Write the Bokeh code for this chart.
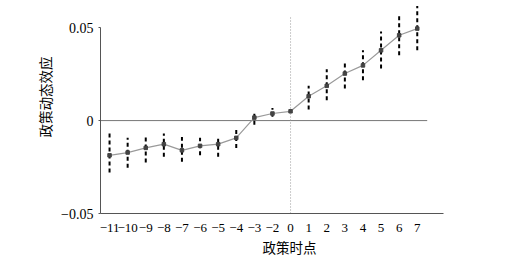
from bokeh.plotting import figure
from bokeh.models import ColumnDataSource, Title, FixedTicker
from bokeh.embed import file_html
from bokeh.resources import INLINE

labels = ["−11", "−10", "−9", "−8", "−7", "−6", "−5", "−4", "−3", "−2",
          "0", "1", "2", "3", "4", "5", "6", "7"]
coef = [-0.0187, -0.0172, -0.0147, -0.0127, -0.0160, -0.0136, -0.0127, -0.0093,
        0.0016, 0.0038, 0.0050, 0.0131, 0.0187, 0.0253, 0.0297, 0.0378, 0.0459, 0.0495]
ci_low = [-0.0280, -0.0254, -0.0226, -0.0195, -0.0222, -0.0187, -0.0195, -0.0147,
          -0.0022, 0.0020, None, 0.0059, 0.0109, 0.0172, 0.0217, 0.0280, 0.0351, 0.0378]
ci_high = [-0.0061, -0.0093, -0.0079, -0.0070, -0.0088, -0.0093, -0.0082, -0.0039,
           0.0050, 0.0068, None, 0.0187, 0.0276, 0.0319, 0.0378, 0.0480, 0.0563, 0.0616]
y_ticks = [-0.05, 0, 0.05]
y_tick_labels = ["−0.05", "0", "0.05"]
x_title = "政策时点"
y_title = "政策动态效应"

xs = list(range(len(labels)))
ci_x = [x for x, lo in zip(xs, ci_low) if lo is not None]
ci_lo = [lo for lo in ci_low if lo is not None]
ci_hi = [hi for hi in ci_high if hi is not None]

p = figure(frame_width=343, frame_height=210, x_range=(-0.5, 18.45), y_range=(-0.05, 0.063),
           output_backend="svg", toolbar_location=None,
           min_border_left=100, min_border_right=30, min_border_top=3, min_border_bottom=0)
p.outline_line_color = None
p.xgrid.grid_line_color = None
p.ygrid.grid_line_color = None
p.background_fill_color = "white"

# reference lines
p.segment(x0=[-0.5], y0=[0], x1=[17.55], y1=[0], line_color="#777777", line_width=1)
p.segment(x0=[10], y0=[-0.05], x1=[10], y1=[0.0555], line_color="#999999",
          line_width=1, line_dash="1 2")

# confidence intervals
ci_src = ColumnDataSource(dict(x=ci_x, lo=ci_lo, hi=ci_hi))
p.segment(x0="x", y0="lo", x1="x", y1="hi", source=ci_src, line_color="black",
          line_width=2, line_dash="4 3")

# estimates
src = ColumnDataSource(dict(x=xs, y=coef))
p.line("x", "y", source=src, line_color="#9a9a9a", line_width=1.2)
p.scatter("x", "y", source=src, marker="square", size=3.5, color="#444444")

# axes
font_serif = "Liberation Serif"
p.xaxis.ticker = FixedTicker(ticks=xs)
p.xaxis.major_label_overrides = {i: l for i, l in enumerate(labels)}
p.xaxis.major_tick_line_color = None
p.xaxis.minor_tick_line_color = None
p.xaxis.axis_line_color = "#555555"
p.xaxis.major_label_text_font = font_serif
p.xaxis.major_label_text_font_size = "13px"
p.xaxis.major_label_text_color = "black"
p.xaxis.major_label_standoff = 4

p.yaxis.ticker = FixedTicker(ticks=y_ticks)
p.yaxis.major_label_overrides = {t: l for t, l in zip(y_ticks, y_tick_labels)}
p.yaxis.bounds = (-0.05, 0.05)
p.yaxis.major_tick_out = 2
p.yaxis.major_tick_in = 0
p.yaxis.major_tick_line_color = "#555555"
p.yaxis.minor_tick_line_color = None
p.yaxis.axis_line_color = "#555555"
p.yaxis.major_label_text_font = font_serif
p.yaxis.major_label_text_font_size = "14px"
p.yaxis.major_label_text_color = "black"
p.yaxis.major_label_standoff = 5

# axis titles
p.add_layout(Title(text=x_title, align="left", offset=162, standoff=0,
                   text_font="Noto Sans CJK SC", text_font_size="13.5px",
                   text_font_style="normal", text_color="black"), "below")
p.add_layout(Title(text=y_title, align="left", offset=76, standoff=8,
                   text_font="Noto Sans CJK SC", text_font_size="13.5px",
                   text_font_style="normal", text_color="black"), "left")

open("out.html", "w").write(file_html(p, INLINE))
